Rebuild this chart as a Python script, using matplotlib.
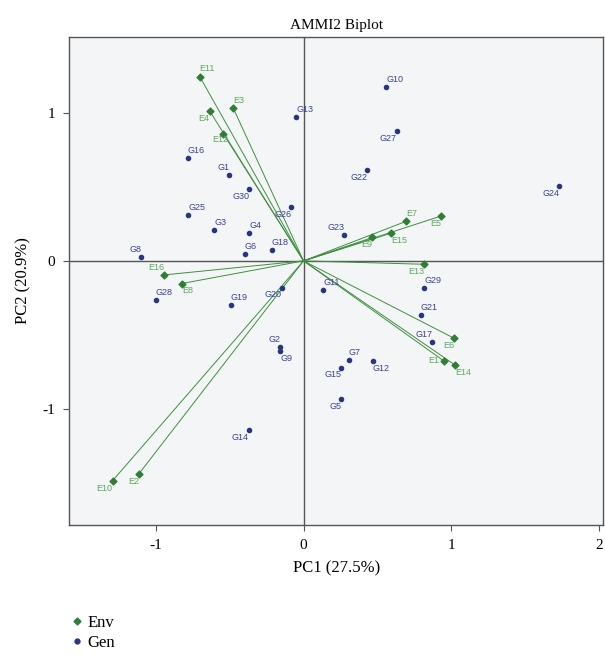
import matplotlib
matplotlib.use("Agg")
import matplotlib.pyplot as plt

plt.rcParams["axes.unicode_minus"] = False

# environment scores (PC1, PC2)
env_names = ["E1", "E2", "E3", "E4", "E5", "E6", "E7", "E8", "E9", "E10",
             "E11", "E12", "E13", "E14", "E15", "E16"]
env_pc1 = [0.95, -1.115, -0.478, -0.636, 0.934, 1.02, 0.697, -0.824, 0.467, -1.294,
           -0.70, -0.544, 0.819, 1.025, 0.593, -0.944]
env_pc2 = [-0.676, -1.439, 1.036, 1.013, 0.304, -0.523, 0.268, -0.153, 0.158, -1.486,
           1.24, 0.86, -0.023, -0.703, 0.187, -0.095]
env_pos = ["l", "ll", "ur", "ll", "ll", "ll", "ur", "lr", "ll", "ll",
           "u", "d", "ll", "lr", "lr", "ul"]

# genotype scores (PC1, PC2)
gen_names = ["G1", "G2", "G3", "G4", "G5", "G6", "G7", "G8", "G9", "G10",
             "G11", "G12", "G13", "G14", "G15", "G16", "G17", "G18", "G19", "G20",
             "G21", "G22", "G23", "G24", "G25", "G26", "G27", "G28", "G29", "G30"]
gen_pc1 = [-0.503, -0.159, -0.605, -0.367, 0.256, -0.397, 0.306, -1.10, -0.159, 0.559,
           0.134, 0.469, -0.049, -0.372, 0.256, -0.785, 0.873, -0.216, -0.494, -0.148,
           0.794, 0.433, 0.277, 1.734, -0.781, -0.083, 0.632, -1.002, 0.817, -0.367]
gen_pc2 = [0.581, -0.581, 0.209, 0.189, -0.932, 0.045, -0.667, 0.025, -0.608, 1.178,
           -0.194, -0.678, 0.971, -1.142, -0.721, 0.696, -0.545, 0.072, -0.30, -0.18,
           -0.367, 0.613, 0.176, 0.505, 0.309, 0.363, 0.878, -0.266, -0.18, 0.486]
gen_pos = ["ul", "ul", "ur", "ur", "ll", "ur", "ur", "ul", "lr", "ur",
           "ur", "lr", "ur", "ll", "ll", "ur", "ul", "ur", "ur", "ll",
           "ur", "ll", "ul", "ll", "ur", "ll", "ll", "ur", "ur", "ll"]

# label placement: offset in points, ha, va
place = {
    "ur": ((0, 2), "left", "bottom"),
    "ul": ((0, 2), "right", "bottom"),
    "ll": ((0, -2), "right", "top"),
    "lr": ((0, -2), "left", "top"),
    "u": ((5, 3), "center", "bottom"),
    "d": ((-2, -1), "center", "top"),
    "l": ((-3, 0), "right", "center"),
}

env_col = "#2f7d36"
env_txt = "#5ca85c"
gen_col = "#2a357f"
gen_txt = "#3a4294"

serif = "Liberation Serif"
lab_font = "Liberation Sans"

fig = plt.figure(figsize=(6.05, 6.56), dpi=100)
ax = fig.add_axes([0.1145, 0.1997, 0.8825, 0.7439])
ax.set_facecolor("#f4f5f7")

ax.axhline(0, color="#555555", lw=1.0, zorder=1)
ax.axvline(0, color="#555555", lw=1.0, zorder=1)

# environment vectors
for x, y in zip(env_pc1, env_pc2):
    ax.plot([0, x], [0, y], color="#3f8f3f", lw=0.7, zorder=2)

ax.scatter(env_pc1, env_pc2, marker="D", s=12, color=env_col, zorder=3)
ax.scatter(gen_pc1, gen_pc2, marker="o", s=9, color=gen_col, zorder=3)

for n, x, y, p in zip(env_names, env_pc1, env_pc2, env_pos):
    off, ha, va = place[p]
    ax.annotate(n, (x, y), xytext=off, textcoords="offset points", ha=ha, va=va,
                fontsize=6.5, color=env_txt, family=lab_font, zorder=4)
for n, x, y, p in zip(gen_names, gen_pc1, gen_pc2, gen_pos):
    off, ha, va = place[p]
    ax.annotate(n, (x, y), xytext=off, textcoords="offset points", ha=ha, va=va,
                fontsize=6.5, color=gen_txt, family=lab_font, zorder=4)

ax.set_xlim(-1.587, 2.03)
ax.set_ylim(-1.785, 1.513)
ax.set_xticks([-1, 0, 1, 2])
ax.set_yticks([-1, 0, 1])
ax.tick_params(direction="out", length=4, width=0.8, color="#555555",
               labelsize=11, pad=6)
for lbl in ax.get_xticklabels() + ax.get_yticklabels():
    lbl.set_family(serif)
for s in ax.spines.values():
    s.set_color("#555555")
    s.set_linewidth(1.0)

ax.set_title("AMMI2 Biplot", family=serif, fontsize=11, pad=6)
ax.set_xlabel("PC1 (27.5%)", family=serif, fontsize=12, labelpad=6)
ax.set_ylabel("PC2 (20.9%)", family=serif, fontsize=12, labelpad=8)

# legend below the plot
fig.legend(handles=[
    plt.Line2D([], [], marker="D", ls="none", color=env_col, markersize=3.5, label="Env"),
    plt.Line2D([], [], marker="o", ls="none", color=gen_col, markersize=3.5, label="Gen")],
    loc="upper left", bbox_to_anchor=(0.088, 0.085), frameon=False,
    prop={"family": serif, "size": 12}, handletextpad=0.15, labelspacing=0.2,
    handlelength=1.0)

fig.savefig("out.png", dpi=100)
